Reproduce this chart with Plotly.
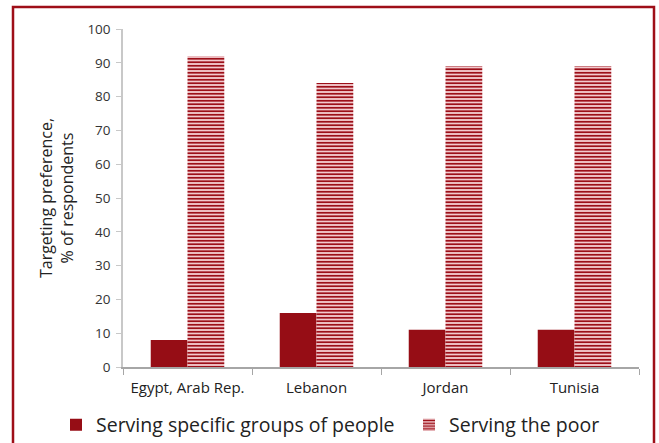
import plotly.graph_objects as go

# Targeting preference by country, % of respondents
countries = ["Egypt, Arab Rep.", "Lebanon", "Jordan", "Tunisia"]
specific_groups = [8, 16, 11, 11]
the_poor = [92, 84, 89, 89]
series_names = ["Serving specific groups of people", "Serving the poor"]
y_ticks = [0, 10, 20, 30, 40, 50, 60, 70, 80, 90, 100]

W, H = 659, 443
L, R, T, B = 123, 20, 29, 76
pw, ph = W - L - R, H - T - B

DARK_RED = "#960d15"

fig = go.Figure()
fig.add_trace(go.Bar(
    x=countries, y=specific_groups, name=series_names[0],
    marker=dict(color=DARK_RED, line=dict(width=0)),
    legend="legend",
))
fig.add_trace(go.Bar(
    x=countries, y=the_poor, name=series_names[1],
    marker=dict(
        color="#f2c9cd",
        line=dict(width=0),
        pattern=dict(shape="-", fgcolor="#9c0f18", bgcolor="#f2c9cd",
                     size=3.5, solidity=0.5, fillmode="replace"),
    ),
    legend="legend2",
))

# outer frame around the figure
def px_x(v):
    return (v - L) / pw

def px_y(v):
    return (H - B - v) / ph

fig.add_shape(type="rect", xref="paper", yref="paper",
              x0=px_x(13), x1=px_x(654), y0=px_y(460), y1=px_y(7),
              line=dict(color="#9e0f18", width=2.5), fillcolor="rgba(0,0,0,0)")

legend_common = dict(orientation="h", xref="container", yref="container",
                     xanchor="left", y=1 - 425 / H, yanchor="middle",
                     font=dict(size=19.5, color="#222222"),
                     bgcolor="rgba(0,0,0,0)")

fig.update_layout(
    width=W, height=H,
    margin=dict(l=L, r=R, t=T, b=B, autoexpand=False),
    paper_bgcolor="white", plot_bgcolor="white",
    font=dict(family="Open Sans, sans-serif", color="#333333", size=13),
    barmode="group", bargap=0.43, bargroupgap=0,
    showlegend=True,
    legend=dict(x=56 / W, **legend_common),
    legend2=dict(x=409 / W, **legend_common),
    xaxis=dict(
        showline=True, linecolor="#a6a6a6", linewidth=1.5,
        ticks="outside", tickson="boundaries", ticklen=6, tickcolor="#a6a6a6",
        tickfont=dict(size=15, color="#222222"), ticklabelstandoff=6,
        showgrid=False,
    ),
    yaxis=dict(
        range=[0, 100], tickvals=y_ticks, showgrid=False, zeroline=False,
        showline=True, linecolor="#c8c8c8", linewidth=1.5,
        ticks="outside", ticklen=5, tickcolor="#c8c8c8",
        tickfont=dict(size=13.5, color="#333333"), ticklabelstandoff=3,
        title=dict(text="Targeting preference,<br>% of respondents",
                   font=dict(size=16, color="#222222"), standoff=10),
    ),
)

fig.write_html("out.html")
